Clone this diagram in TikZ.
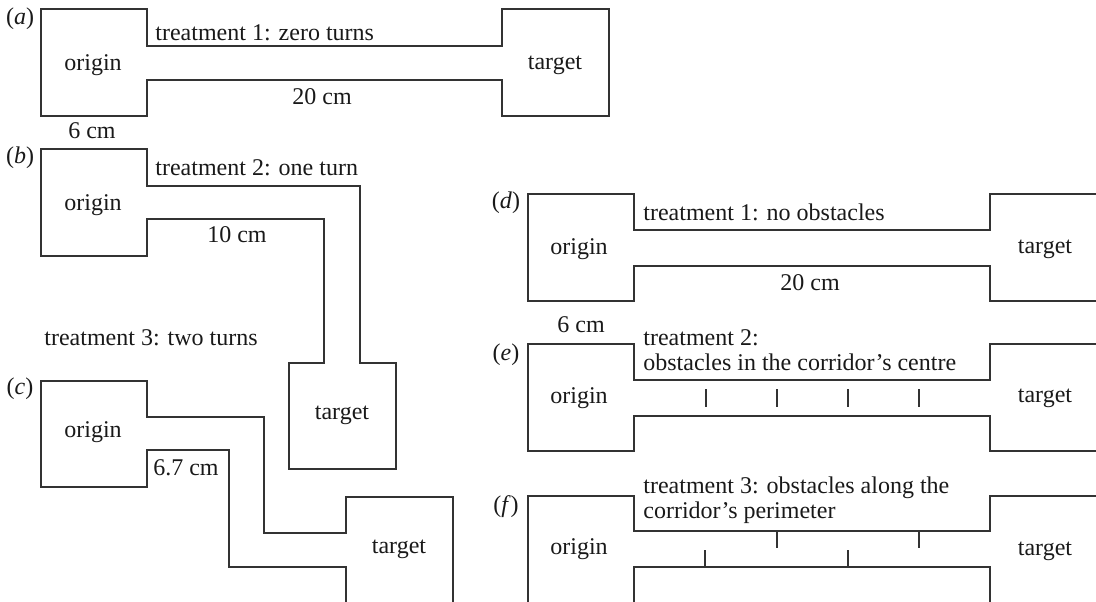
\documentclass[tikz,border=0pt]{standalone}
\usepackage{fontspec}
\setmainfont{Liberation Serif}
\begin{document}
\begin{tikzpicture}[x=0.5pt,y=-0.5pt,
  wall/.style={draw=black!80, line width=1pt},
  obst/.style={draw=black!80, line width=1pt},
  lbl/.style={font=\fontsize{12}{12.5}\selectfont, text=black!90, inner sep=0pt},
  lbll/.style={lbl, anchor=west, align=left}]
\useasboundingbox (0,0) rectangle (1096,601);
\clip (0,0) rectangle (1096,601);

% ---------- (a) ----------
\draw[wall] (41,9) -- (147,9) -- (147,46) -- (502,46) -- (502,9) -- (609,9)
  -- (609,116) -- (502,116) -- (502,80) -- (147,80) -- (147,116) -- (41,116) -- cycle;
\node[lbl] (la) at (20,19) {(\textit{a})};
\node[lbll] (ta) at (155,33) {treatment 1: zero turns};
\node[lbl] (oa) at (93,65) {origin};
\node[lbl] (ga) at (555,65) {target};
\node[lbl] (da) at (322,97) {20 cm};
\node[lbl] (wa) at (92,131) {6 cm};

% ---------- (b) ----------
\draw[wall] (41,149) -- (147,149) -- (147,186) -- (360,186) -- (360,363) -- (396,363)
  -- (396,469) -- (289,469) -- (289,363) -- (324,363) -- (324,219) -- (147,219)
  -- (147,256) -- (41,256) -- cycle;
\node[lbl] (lb) at (20,158) {(\textit{b})};
\node[lbll] (tb) at (155,168) {treatment 2: one turn};
\node[lbl] (ob) at (93,205) {origin};
\node[lbl] (db) at (237,235) {10 cm};
\node[lbl] (gb) at (342,415) {target};

% ---------- (c) ----------
\node[lbll] (tc) at (44,338) {treatment 3: two turns};
\draw[wall] (346,615) -- (346,567) -- (229,567) -- (229,450) -- (147,450) -- (147,487)
  -- (41,487) -- (41,381) -- (147,381) -- (147,417) -- (264,417) -- (264,533)
  -- (346,533) -- (346,497) -- (453,497) -- (453,615);
\node[lbl] (lc) at (20,389) {(\textit{c})};
\node[lbl] (oc) at (93,432) {origin};
\node[lbl] (dc) at (186,468) {6.7 cm};
\node[lbl] (gc) at (399,549) {target};

% ---------- (d) ----------
\draw[wall] (1100,194) -- (990,194) -- (990,230) -- (634,230) -- (634,194) -- (528,194)
  -- (528,301) -- (634,301) -- (634,266) -- (990,266) -- (990,301) -- (1100,301);
\node[lbl] (ld) at (506,203) {(\textit{d})};
\node[lbll] (td) at (643,212) {treatment 1: no obstacles};
\node[lbl] (od) at (579,249) {origin};
\node[lbl] (gd) at (1045,249) {target};
\node[lbl] (dd) at (810,283) {20 cm};
\node[lbl] (wd) at (581,325) {6 cm};

% ---------- (e) ----------
\draw[wall] (1100,344) -- (990,344) -- (990,380) -- (634,380) -- (634,344) -- (528,344)
  -- (528,451) -- (634,451) -- (634,416) -- (990,416) -- (990,451) -- (1100,451);
\node[lbl] (le) at (506,355) {(\textit{e})};
\node[lbll] (te) at (643,350) {treatment 2:\\obstacles in the corridor’s centre};
\node[lbl] (oe) at (579,398) {origin};
\node[lbl] (ge) at (1045,398) {target};
\foreach \x/\n in {706/1,777/2,848/3,919/4} {
  \coordinate (e\n a) at (\x,389);
  \coordinate (e\n b) at (\x,407);
  \draw[obst] (e\n a) -- (e\n b);
}

% ---------- (f) ----------
\draw[wall] (1100,496) -- (990,496) -- (990,531) -- (634,531) -- (634,496) -- (528,496)
  -- (528,615);
\draw[wall] (634,615) -- (634,567) -- (990,567) -- (990,615);
\node[lbl] (lf) at (506,507) {(\textit{f})};
\node[lbll] (tf) at (643,500) {treatment 3: obstacles along the\\corridor’s perimeter};
\node[lbl] (of) at (579,549) {origin};
\node[lbl] (gf) at (1045,551) {target};
\foreach \x/\n in {777/1,919/2} {
  \coordinate (ft\n a) at (\x,531);
  \coordinate (ft\n b) at (\x,548);
  \draw[obst] (ft\n a) -- (ft\n b);
}
\foreach \x/\n in {705/1,848/2} {
  \coordinate (fb\n a) at (\x,567);
  \coordinate (fb\n b) at (\x,550);
  \draw[obst] (fb\n a) -- (fb\n b);
}
\end{tikzpicture}
\end{document}
